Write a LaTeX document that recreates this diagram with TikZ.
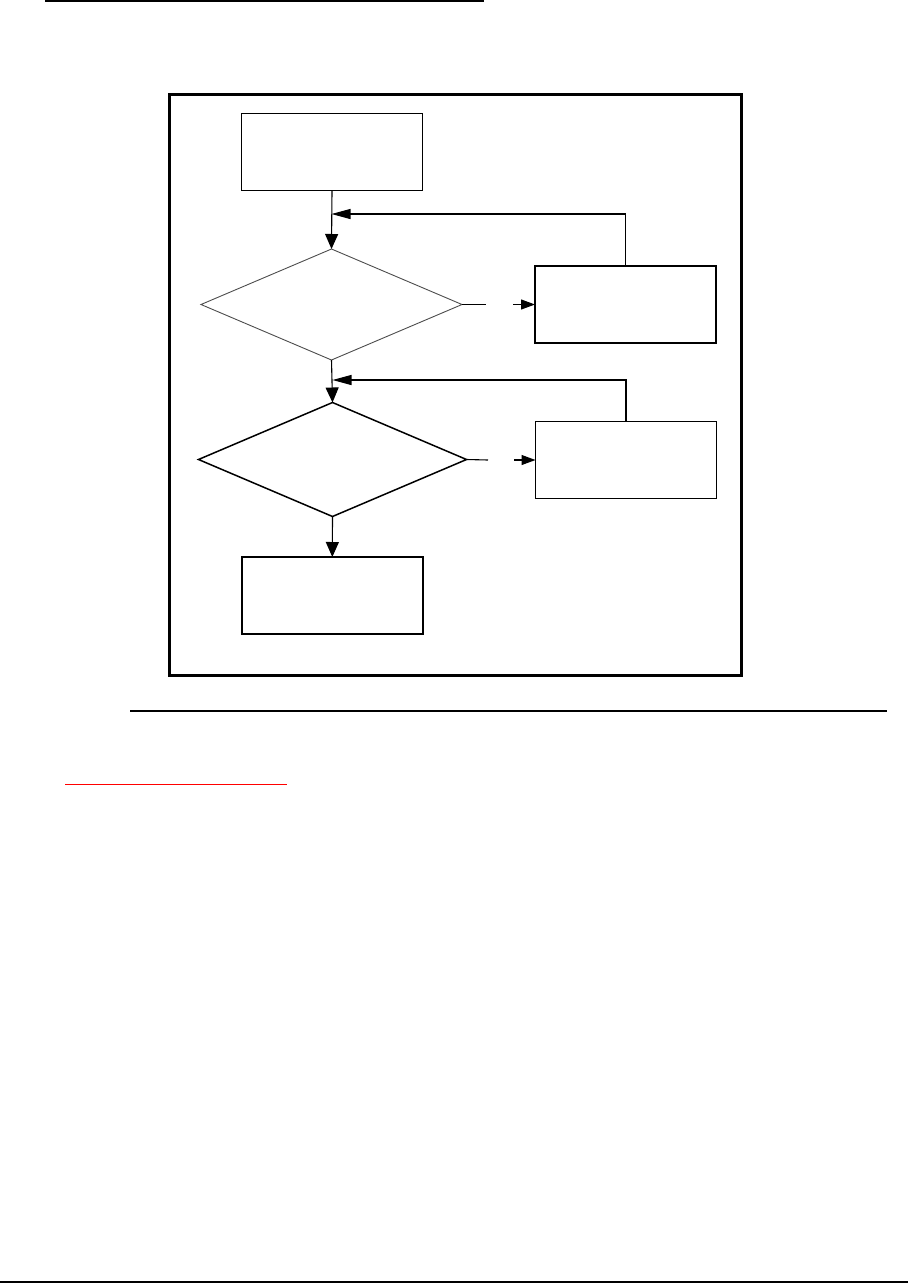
\documentclass[tikz,border=0pt]{standalone}
\usetikzlibrary{positioning,arrows.meta,shapes.geometric}

\begin{document}
\begin{tikzpicture}[x=1pt,y=-1pt,
  box/.style={draw,line width=1.2pt,minimum width=181pt,minimum height=77pt,inner sep=0pt,outer sep=0pt},
  test/.style={draw,diamond,inner sep=0pt,outer sep=0pt},
  link/.style={line width=1.1pt},
  flow/.style={link,-{Triangle[length=15pt,width=13pt]}},
  back/.style={link,-{Triangle[length=19pt,width=10pt]}},
  side/.style={link,-{Triangle[length=14pt,width=10pt]}}]
  \useasboundingbox (0,0) rectangle (908,1283);

  % page rules
  \draw[line width=2.5pt] (45,1) -- (484,1);
  \draw[line width=3pt] (169,94) rectangle (741,675.5);
  \draw[line width=1.5pt] (130,711) -- (887,711);
  \draw[red,line width=1.8pt] (65,784.5) -- (287,784.5);
  \draw[line width=2pt] (0,1281.5) -- (908,1281.5);

  % boxes and tests
  \node[box] (start) at (332,152.3) {};
  \node[test,draw=black!70,line width=0.9pt,minimum width=261pt,minimum height=111pt] (test1) at (331.5,304.5) {};
  \node[box] (fix1) at (625.5,304.5) {};
  \node[test,line width=1.5pt,minimum width=268pt,minimum height=114pt] (test2) at (332.5,459.5) {};
  \node[box] (fix2) at (626,460) {};
  \node[box,line width=1.8pt] (done) at (332.3,595.5) {};

  % joins and gaps
  \coordinate (back1) at (331.5,214);
  \coordinate (back2) at (332.5,380);
  \coordinate (gap1a) at (486,304.5);
  \coordinate (gap1b) at (513,304.5);
  \coordinate (gap2a) at (488,460);
  \coordinate (gap2b) at (514,460);

  % connectors
  \draw[flow] (start.south) -- (test1.north);
  \draw[back] (fix1.north) |- (back1);
  \draw[link] (test1.east) -- (gap1a);
  \draw[side] (gap1b) -- (fix1.west);
  \draw[flow] (test1.south) -- (test2.north);
  \draw[back] (fix2.north) |- (back2);
  \draw[link] (test2.east) -- (gap2a);
  \draw[side] (gap2b) -- (fix2.west);
  \draw[flow] (test2.south) -- (done.north);
\end{tikzpicture}
\end{document}
